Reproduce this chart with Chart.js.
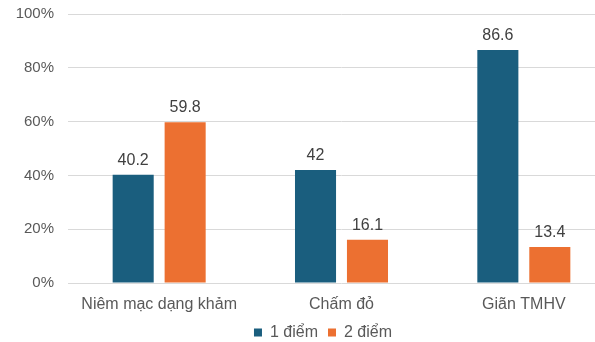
<!DOCTYPE html>
<html lang="vi">
<head>
  <meta charset="UTF-8">
  <title>Chart</title>
  <script src="https://cdn.jsdelivr.net/npm/chart.js"></script>
  <style>
    html, body { margin: 0; padding: 0; overflow: hidden; background: #fff; }
    #wrap { width: 640px; height: 342px; }
  </style>
</head>
<body>
  <div id="wrap"><canvas id="myChart" width="640" height="342"></canvas></div>
  <script>
    // chart data
    const categories = ['Niêm mạc dạng khảm', 'Chấm đỏ', 'Giãn TMHV'];
    const seriesNames = ['1 điểm', '2 điểm'];
    const onePoint = [40.2, 42, 86.6];
    const twoPoints = [59.8, 16.1, 13.4];
    const yTicks = [0, 20, 40, 60, 80, 100];

    const FONT = '"Liberation Sans", Arial, sans-serif';

    // draw the value above each bar
    const valueLabels = {
      id: 'valueLabels',
      afterDatasetsDraw(chart) {
        const ctx = chart.ctx;
        ctx.save();
        ctx.font = '16px ' + FONT;
        ctx.fillStyle = '#404040';
        ctx.textAlign = 'center';
        ctx.textBaseline = 'alphabetic';
        chart.data.datasets.forEach((ds, i) => {
          chart.getDatasetMeta(i).data.forEach((bar, j) => {
            ctx.fillText(String(ds.data[j]), bar.x, bar.y - 10);
          });
        });
        ctx.restore();
      }
    };

    // legend: fixed height, and centred like the (right-cropped) original
    const legendFix = {
      id: 'legendFix',
      beforeLayout(chart) {
        const lg = chart.legend;
        if (lg && !lg._patched) {
          const fit = lg.fit;
          lg.fit = function() { fit.call(this); this.height = 20; };
          lg._patched = true;
        }
      },
      afterLayout(chart) {
        const lg = chart.legend;
        lg.left = 0;
        lg.right = 646;
        lg.width = lg.right - lg.left;
        lg.top = 314.4;
        lg.height = 27.6;
        lg.bottom = lg.top + lg.height;
      }
    };

    const ctx = document.getElementById('myChart').getContext('2d');
    new Chart(ctx, {
      type: 'bar',
      data: {
        labels: categories,
        datasets: [{
          label: seriesNames[0],
          data: onePoint,
          backgroundColor: '#1a5e7e'
        }, {
          label: seriesNames[1],
          data: twoPoints,
          backgroundColor: '#ec7031'
        }]
      },
      options: {
        responsive: false,
        animation: false,
        layout: { padding: { top: 0, right: 25, left: 0, bottom: 0 } },
        categoryPercentage: 0.57,
        barPercentage: 0.79,
        plugins: {
          legend: {
            position: 'bottom',
            labels: {
              boxWidth: 8,
              boxHeight: 8,
              padding: 10,
              color: '#595959',
              font: { family: FONT, size: 16 }
            }
          },
          tooltip: { enabled: false }
        },
        scales: {
          x: {
            grid: { display: false, drawTicks: false },
            border: { display: false },
            ticks: {
              color: '#595959',
              padding: 12,
              font: { family: FONT, size: 16 }
            },
            afterFit(scale) { scale.height = 39; }
          },
          y: {
            min: 0,
            max: 100,
            afterBuildTicks(scale) { scale.ticks = yTicks.map(v => ({ value: v })); },
            grid: { color: '#d9d9d9', lineWidth: 1, drawTicks: false },
            border: { display: false },
            ticks: {
              color: '#595959',
              padding: 14,
              font: { family: FONT, size: 15 },
              callback: v => v + '%'
            },
            afterFit(scale) {
              scale.width = 68;
              scale.paddingTop = 14;
              scale.paddingBottom = 0;
            }
          }
        }
      },
      plugins: [valueLabels, legendFix]
    });
  </script>
</body>
</html>
